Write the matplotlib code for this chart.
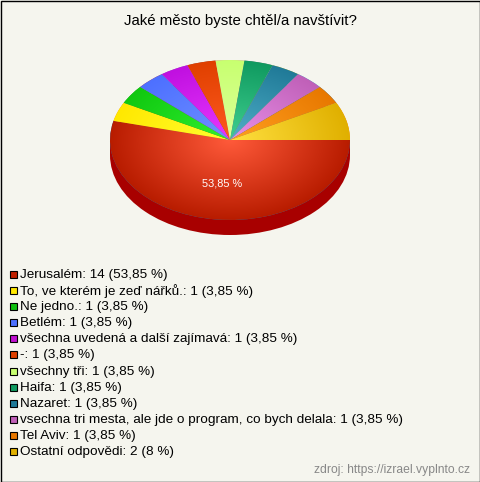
import numpy as np
import matplotlib
matplotlib.use("Agg")
import matplotlib.pyplot as plt
from matplotlib.colors import LinearSegmentedColormap
from matplotlib.patches import Rectangle, Ellipse

plt.rcParams["font.family"] = ["Liberation Sans", "DejaVu Sans"]

title = "Jaké město byste chtěl/a navštívit?"
source = "zdroj: https://izrael.vyplnto.cz"
labels = ["Jerusalém", "To, ve kterém je zeď nářků.", "Ne jedno.", "Betlém",
          "všechna uvedená a další zajímavá", "-", "všechny tři", "Haifa", "Nazaret",
          "vsechna tri mesta, ale jde o program, co bych delala", "Tel Aviv",
          "Ostatní odpovědi"]
values = [14, 1, 1, 1, 1, 1, 1, 1, 1, 1, 1, 2]
pcts = ["53,85", "3,85", "3,85", "3,85", "3,85", "3,85", "3,85", "3,85", "3,85",
        "3,85", "3,85", "8"]
inner = ["#ff5a3a", "#ffff30", "#30f030", "#7090ff", "#e838ff", "#ff5a20", "#dcff9a",
         "#40d090", "#50b0c8", "#e890e8", "#ffa020", "#ffe040"]
outer = ["#b81c00", "#ffe800", "#10c810", "#4d70ff", "#c010e0", "#e04000", "#c8ff70",
         "#109a60", "#207a98", "#c060b8", "#e87800", "#e0b000"]
swatch = ["#c02000", "#ffe800", "#10c010", "#4d70ff", "#c010d0", "#e04000", "#c8ff70",
          "#109a60", "#207a98", "#c060b8", "#e87800", "#e0b000"]

BG = "#f5f5ee"
W, H = 480, 482

fig = plt.figure(figsize=(W / 100, H / 100), dpi=100, facecolor=BG)

# page axes in pixel coordinates
ax = fig.add_axes([0, 0, 1, 1])
ax.set_xlim(0, W)
ax.set_ylim(H, 0)
ax.axis("off")

# side of the pie
cx, cy, rx, ry, depth = 230, 140, 120, 80, 15
ax.add_patch(Ellipse((cx, cy + depth), 2 * rx, 2 * ry, fc="#a80000", ec="none"))
ax.add_patch(Rectangle((cx - rx, cy), 2 * rx, depth, fc="#a80000", ec="none"))

# top of the pie, squashed because the axes is wider than tall
pie_ax = fig.add_axes([(cx - rx) / W, 1 - (cy + ry) / H, 2 * rx / W, 2 * ry / H])
wedges, _ = pie_ax.pie(values, startangle=0, counterclock=False, radius=1,
                       wedgeprops={"linewidth": 0})
pie_ax.set_aspect("auto")
pie_ax.axis("off")

gx, gy = np.meshgrid(np.linspace(-1, 1, 300), np.linspace(-1, 1, 300))
dist = np.clip(np.hypot(gx, gy), 0, 1)
for wedge, c0, c1 in zip(wedges, inner, outer):
    cmap = LinearSegmentedColormap.from_list("w", [c0, c1])
    im = pie_ax.imshow(dist, cmap=cmap, vmin=0, vmax=1, extent=(-1, 1, -1, 1),
                       aspect="auto", zorder=2, interpolation="bilinear")
    im.set_clip_path(wedge)
pie_ax.set_xlim(-1, 1)
pie_ax.set_ylim(-1, 1)

# percentage label of the largest slice
mid = np.deg2rad(-(values[0] / sum(values)) * 180)
pie_ax.text(0.55 * np.cos(mid), 0.55 * np.sin(mid), pcts[0] + " %", color="white",
            fontsize=7.8, ha="center", va="center", zorder=3)

ax.text(240, 21, title, fontsize=10.85, ha="center", va="center", color="black")

# legend rows
for i, (lab, val, pct, col) in enumerate(zip(labels, values, pcts, swatch)):
    y = 274 + i * 16.09
    ax.add_patch(Rectangle((9.5, y - 3), 7, 7, fc=col, ec="black", lw=0.8))
    ax.text(20, y + 1, f"{lab}: {val} ({pct} %)", fontsize=9.7, ha="left", va="center",
            color="black")

ax.text(470, 470.5, source, fontsize=8.7, ha="right", va="center", color="#888888")

# dark page edge
ax.add_patch(Rectangle((0.5, 0.5), W - 1, H - 1, fc="none", ec="black", lw=1))

fig.savefig("out.png", dpi=100, facecolor=BG)
